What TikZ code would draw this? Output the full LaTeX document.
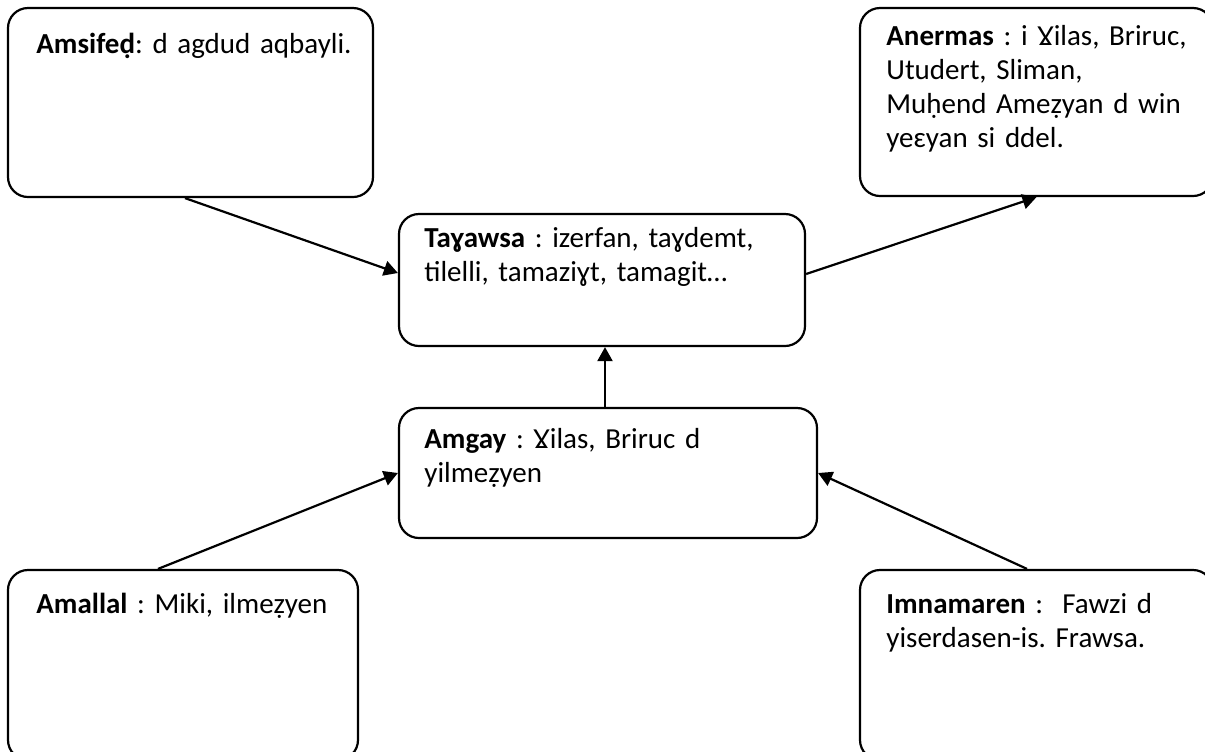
\documentclass[tikz,border=0pt]{standalone}
\usepackage{fontspec}
\setmainfont{Carlito}
\usetikzlibrary{arrows.meta}
\tikzset{
  box/.style={draw, line width=1.1pt, rounded corners=10pt},
  txt/.style={anchor=base west, inner sep=0pt, text width=240pt, align=left,
    font=\fontsize{14.5pt}{17pt}\selectfont\frenchspacing},
  arr/.style={line width=1.1pt, -{Triangle[length=7pt,width=7.5pt]}}
}
\begin{document}
\begin{tikzpicture}[x=0.5pt,y=-0.5pt]
      \useasboundingbox (0,0) rectangle (1205,751);
      \node[box, minimum width=182.5pt, minimum height=94.5pt] (amsifed) at (190.5,102.5) {};
      \node[box, minimum width=176.5pt, minimum height=94pt] (anermas) at (1036.5,102) {};
      \node[box, minimum width=203pt, minimum height=66pt] (tawsa) at (602,280) {};
      \node[box, minimum width=209pt, minimum height=65pt] (amgay) at (608,473) {};
      \node[box, minimum width=175pt, minimum height=95pt] (amallal) at (183,665) {};
      \node[box, minimum width=176.5pt, minimum height=95pt] (imnamaren) at (1036.5,665) {};
      \node[txt] (amsifedtxt) at (36,53) {\textbf{Amsifeḍ}: d agdud aqbayli.};
      \node[txt] (anermastxt) at (886,45) {\textbf{Anermas} : i Ɣilas, Briruc,\\ Utudert, Sliman,\\ Muḥend Ameẓyan d win\\ yeɛyan si ddel.};
      \node[txt] (tawsatxt) at (424,247) {\textbf{Taɣawsa} : izerfan, taɣdemt,\\ tilelli, tamaziɣt, tamagit…};
      \node[txt] (amgaytxt) at (424,448) {\textbf{Amgay} : Ɣilas, Briruc d\\ yilmeẓyen};
      \node[txt] (amallaltxt) at (36,613) {\textbf{Amallal} : Miki, ilmeẓyen};
      \node[txt] (imnamarentxt) at (886,613) {\textbf{Imnamaren} :~~Fawzi d\\ yiserdasen-is. Frawsa.};
      \begin{scope}[arr]
        \draw ([xshift=-2.75pt]amsifed.south) to ([yshift=3.5pt]tawsa.west);
        \draw ([yshift=3pt]tawsa.east) to (anermas.south);
        \draw ([xshift=-1.5pt]amgay.north) to ([xshift=1.5pt]tawsa.south);
        \draw ([xshift=-12.5pt]amallal.north) to (amgay.west);
        \draw ([xshift=-4.75pt]imnamaren.north) to (amgay.east);
      \end{scope}
    \end{tikzpicture}
\end{document}
